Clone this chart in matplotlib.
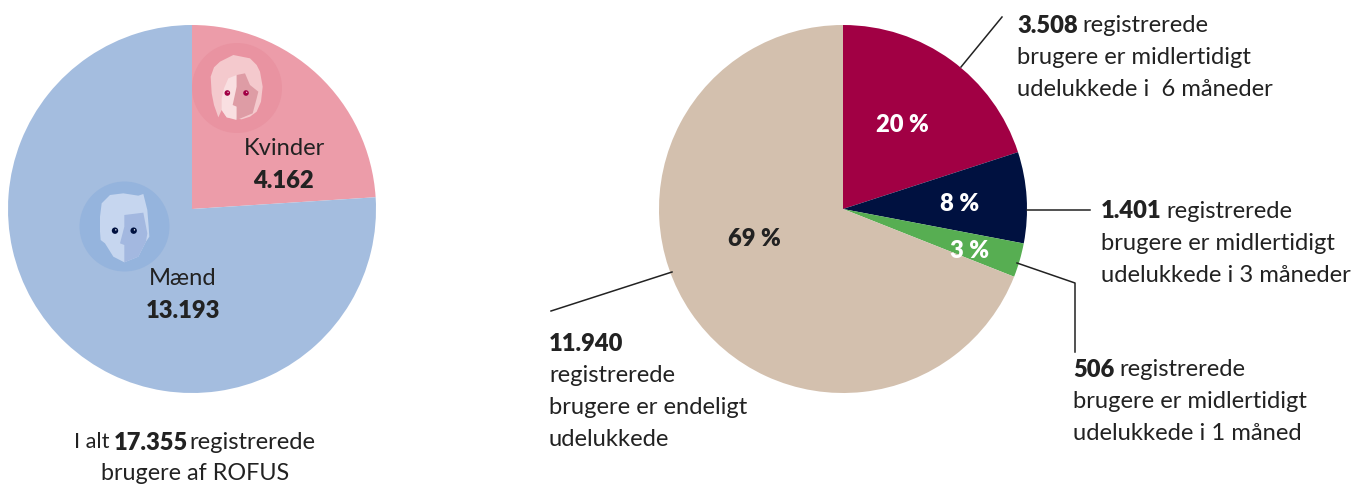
import matplotlib
matplotlib.use("Agg")
import matplotlib.pyplot as plt
from matplotlib.patches import Circle, Polygon

plt.rcParams['font.family'] = ['Lato', 'DejaVu Sans']

W, H = 1356, 484
gender_values = [4162, 13193]
gender_colors = ['#EC9CA9', '#A4BDDF']
status_shares = [20, 8, 3, 69]
status_colors = ['#A10044', '#001140', '#57AE52', '#D3C0AE']
status_pcts = ['20 %', '8 %', '3 %', '69 %']
status_pct_colors = ['white', 'white', 'white', '#222222']

fig = plt.figure(figsize=(W/100, H/100), dpi=100)

def pie_axes(cx, cy, r):
    ax = fig.add_axes([(cx-r)/W, 1-(cy+r)/H, 2*r/W, 2*r/H])
    ax.set_aspect('equal')
    return ax

a1 = pie_axes(192, 209, 184)
a1.pie(gender_values, colors=gender_colors, startangle=90, counterclock=False, radius=1,
       wedgeprops=dict(linewidth=0))
a1.set_xlim(-1, 1); a1.set_ylim(-1, 1)
a2 = pie_axes(843, 209, 184)
a2.pie(status_shares, colors=status_colors, startangle=90, counterclock=False, radius=1,
       wedgeprops=dict(linewidth=0))
a2.set_xlim(-1, 1); a2.set_ylim(-1, 1)

ov = fig.add_axes([0, 0, 1, 1]); ov.set_xlim(0, W); ov.set_ylim(H, 0); ov.axis('off')
ov.patch.set_alpha(0)

def poly(pts, color):
    # icon outlines traced in the zoomed crop (3x, origin 60,30)
    ov.add_patch(Polygon([(60+x/3, 30+y/3) for x, y in pts], closed=True, color=color, lw=0))

# Woman icon
ov.add_patch(Circle((237, 88), 45, color='#E993A1', lw=0))
poly([(475,262),(462,225),(455,190),(452,140),(462,112),(480,95),(520,75),(570,85),(590,105),(600,125),(608,170),(603,215),(590,245),(570,260),(545,268),(500,262),(485,240)], '#F4C9CD')
poly([(530,135),(505,145),(492,175),(485,205),(485,240),(500,262),(530,270)], '#F9DFE1')
poly([(530,135),(555,130),(570,165),(595,185),(590,205),(578,250),(530,270),(530,230),(518,225),(530,170)], '#DE9CA5')
for ex, ey in [(502,189),(558,189)]:
    ov.add_patch(Circle((60+ex/3, 30+ey/3), 2.8, color='#A10044', lw=0))
    ov.add_patch(Circle((60+ex/3+0.7, 30+ey/3-0.7), 0.6, color='white', lw=0))

# Man icon
ov.add_patch(Circle((124.5, 226.5), 45, color='#95B4DD', lw=0))
poly([(120,560),(125,520),(150,495),(190,490),(235,497),(250,492),(262,540),(266,590),(268,620),(258,635),(235,680),(193,697),(160,680),(135,640),(122,630),(120,605)], '#C6D6EF')
poly([(193,555),(250,548),(262,610),(258,635),(235,680),(193,697),(193,645),(180,640),(193,590)], '#A3B8E0')
for ex, ey in [(165,602),(221,602)]:
    ov.add_patch(Circle((60+ex/3, 30+ey/3), 3.2, color='#001140', lw=0))
    ov.add_patch(Circle((60+ex/3+0.8, 30+ey/3-0.8), 0.7, color='white', lw=0))

FS = 17.1
INK = '#222222'
def txt(x, y, s, ha='left'):
    return ov.text(x, y, s, fontsize=FS, ha=ha, va='center', color=INK)

def bold(x, y, s, ha='left', color=INK):
    return ov.text(x, y, s, fontsize=FS, fontweight='heavy', ha=ha, va='center', color=color)

def mixed(x, y, b, rest, gap=5):
    t = bold(x, y, b)
    fig.canvas.draw()
    inv = ov.transData.inverted()
    bb = t.get_window_extent()
    x1 = inv.transform((bb.x1, bb.y0))[0]
    txt(x1 + gap, y, rest)

txt(284, 148.5, 'Kvinder', ha='center')
bold(283, 180.5, '4.162', ha='center')
txt(183, 278.5, 'Mænd', ha='center')
bold(183, 310.5, '13.193', ha='center')

ov.text(74, 442.5, 'I alt', fontsize=FS-1.5, ha='left', va='center', color=INK)
bold(114, 442.5, '17.355')
txt(189, 442.5, 'registrerede')
ov.text(195, 473.5, 'brugere af ROFUS', fontsize=FS-0.3, ha='center', va='center', color=INK)

pct_pos = [(902, 125.5), (960, 204), (970, 251), (754, 239)]
for (x, y), s, c in zip(pct_pos, status_pcts, status_pct_colors):
    bold(x, y, s, ha='center', color=c)

mixed(1017, 26, '3.508', 'registrerede')
txt(1017, 58, 'brugere er midlertidigt')
txt(1017, 90, 'udelukkede i  6 måneder')
mixed(1101, 211, '1.401', 'registrerede')
txt(1101, 243, 'brugere er midlertidigt')
txt(1101, 275, 'udelukkede i 3 måneder')
mixed(1073, 370, '506', 'registrerede')
txt(1073, 402, 'brugere er midlertidigt')
txt(1073, 434, 'udelukkede i 1 måned')
bold(549, 344, '11.940')
txt(549, 376, 'registrerede')
txt(549, 408, 'brugere er endeligt')
txt(549, 440, 'udelukkede')

lk = dict(color=INK, lw=1.1)
ov.plot([1002, 961], [17, 67], **lk)
ov.plot([1090, 1027], [210, 210], **lk)
ov.plot([1075, 1075, 1017], [352, 283, 263], **lk)
ov.plot([551, 672], [311, 272], **lk)
ov.set_xlim(0, W); ov.set_ylim(H, 0)

fig.savefig('out.png', dpi=100)
